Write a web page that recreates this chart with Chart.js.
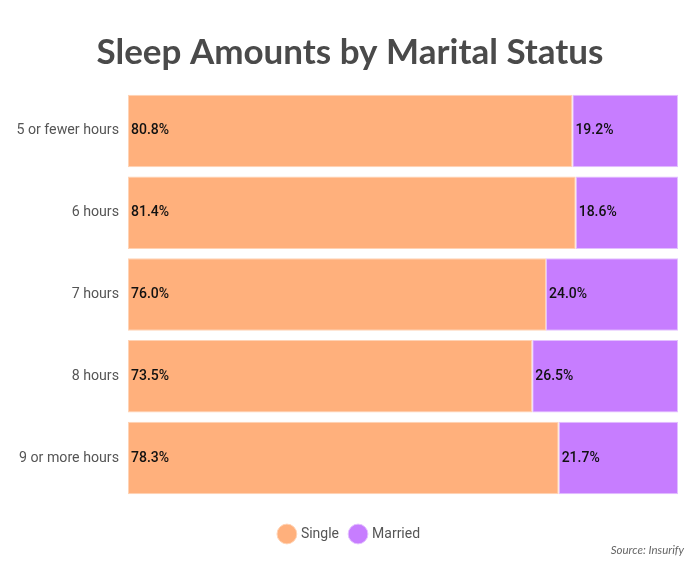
<!DOCTYPE html>
<html><head><meta charset="utf-8">
<script src="https://cdn.jsdelivr.net/npm/chart.js@4"></script>
<style>html,body{margin:0;padding:0;background:#fff}#wrap{width:700px;height:580px;position:relative}</style>
</head><body><div id="wrap"><canvas id="c"></canvas></div>
<script>
const categories = ["5 or fewer hours","6 hours","7 hours","8 hours","9 or more hours"];
const single = [80.8,81.4,76.0,73.5,78.3];
const married = [19.2,18.6,24.0,26.5,21.7];
const seriesNames = ["Single","Married"];
const titleText = "Sleep Amounts by Marital Status";
const sourceText = "Source: Insurify";

const labelPlugin = {
  id:'lbl',
  afterDatasetsDraw(chart){
    const ctx = chart.ctx;
    ctx.save();
    ctx.font = '500 14px Roboto';
    ctx.fillStyle = '#111';
    ctx.textBaseline = 'middle';
    ctx.textAlign = 'left';
    chart.data.datasets.forEach((ds,di)=>{
      const meta = chart.getDatasetMeta(di);
      meta.data.forEach((el,i)=>{
        const left = Math.min(el.x, el.base);
        ctx.fillText(ds.data[i].toFixed(1)+'%', left+3, el.y);
      });
    });
    ctx.font = 'italic 11.5px Lato';
    ctx.fillStyle = '#666';
    ctx.textAlign = 'right';
    ctx.fillText(sourceText, 684, 550);
    ctx.restore();
  }
};

new Chart(document.getElementById('c'),{
  type:'bar',
  data:{labels:categories,datasets:[
    {label:seriesNames[0],data:single,backgroundColor:'#FFB07C',borderColor:'#FFD3B5',borderWidth:1,borderSkipped:false},
    {label:seriesNames[1],data:married,backgroundColor:'#C77DFF',borderColor:'#E3C0FF',borderWidth:1,borderSkipped:false}
  ]},
  options:{
    responsive:true,maintainAspectRatio:false,animation:false,
    indexAxis:'y',
    layout:{padding:{left:10,right:10,top:0,bottom:29}},
    datasets:{bar:{categoryPercentage:0.886,barPercentage:1}},
    scales:{
      x:{stacked:true,display:true,min:0,max:100,grid:{display:false},border:{display:false},
         ticks:{display:false},afterFit(s){ s.height = 16; }},
      y:{stacked:true,grid:{display:false},border:{display:false},
         afterFit(s){ s.width = 118; },
         ticks:{color:'#555',font:{family:'Roboto',size:14.2},padding:1}},
      y2:{type:'category',position:'right',display:true,grid:{display:false},border:{display:false},
         ticks:{display:false},afterFit(s){ s.width = 12; }}
    },
    plugins:{
      title:{display:true,text:titleText,color:'#4a4a4a',font:{family:'Lato',size:35,weight:'bold'},padding:{top:32,bottom:16}},
      legend:{position:'bottom',labels:{usePointStyle:true,pointStyle:'circle',boxWidth:14,boxHeight:14,color:'#555',font:{family:'Roboto',size:14},padding:12}},
      tooltip:{enabled:false}
    }
  },
  plugins:[labelPlugin]
});
</script></body></html>
